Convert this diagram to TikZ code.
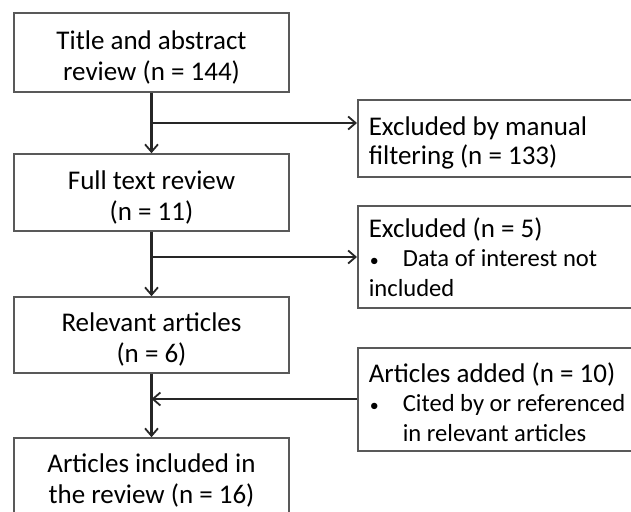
\documentclass[tikz,border=0pt]{standalone}
\usepackage{fontspec}
\setmainfont{Carlito}
\usetikzlibrary{arrows.meta,calc}
\newcommand{\bul}{\makebox[34pt][l]{\hspace{1pt}\fontsize{18}{18}\selectfont\textbullet}}
\newcommand{\smtxt}{\fontsize{24.6}{29.5}\selectfont}
\begin{document}
\begin{tikzpicture}[x=1pt,y=-1pt,
  lbox/.style={draw=black!65,line width=1.6pt,minimum width=275pt,inner sep=0pt,align=center,
     font=\fontsize{27}{31}\selectfont},
  rbox/.style={draw=black!65,line width=1.6pt,minimum width=300pt,inner sep=0pt,anchor=west,
     text width=290pt,align=flush left,font=\fontsize{27}{29.5}\selectfont},
  fb/.style={text height=10pt,text depth=#1},
  lfb/.style={text height=#1,text depth=0pt},
  conn/.style={draw=black!85,line width=2.2pt},
  arr/.style={conn,-{Straight Barb[length=7.5pt,width=13pt,line width=1.8pt]}}]
\useasboundingbox (0,0) rectangle (631,511);
\clip (0,0) rectangle (631,511);
\fill[white] (0,0) rectangle (631,511);
\node[lbox,lfb=55pt,minimum height=79pt] (b1) at (151.5,52.5) {Title and abstract\\review (n = 144)};
\node[lbox,lfb=55pt,minimum height=77pt] (b2) at (151.5,192.5) {Full text review\\(n = 11)};
\node[lbox,lfb=54pt,minimum height=76pt] (b3) at (151.5,335) {Relevant articles\\(n = 6)};
\node[lbox,lfb=53pt,minimum height=77pt] (b4) at (151.5,476.5) {Articles included in\\the review (n = 16)};
\node[rbox,fb=17pt,minimum height=77pt] (r1) at (357,138.5) {\hspace*{6pt}Excluded by manual\\\hspace*{6pt}filtering (n = 133)};
\node[rbox,fb=50pt,minimum height=102pt] (r2) at (357,257) {\hspace*{6pt}Excluded (n = 5)\\\hspace*{6pt}\bul{\smtxt Data of interest not}\\\hspace*{6pt}{\smtxt included}};
\node[rbox,fb=45pt,minimum height=103pt] (r3) at (357,399.5) {\hspace*{6pt}Articles added (n = 10)\\\hspace*{6pt}\bul{\smtxt Cited by or referenced}\\\hspace*{40pt}{\smtxt in relevant articles}};
\coordinate (j1) at (151.5,123);
\coordinate (j2) at (151.5,257);
\coordinate (j3) at (151.5,399);
\draw[arr] (b1.south) -- (b2.north);
\draw[arr] (j1) -- (j1 -| r1.west);
\draw[arr] (b2.south) -- (b3.north);
\draw[arr] (j2) -- (j2 -| r2.west);
\draw[arr] (b3.south) -- (b4.north);
\draw[arr] (j3 -| r3.west) -- (j3);
\end{tikzpicture}
\end{document}
